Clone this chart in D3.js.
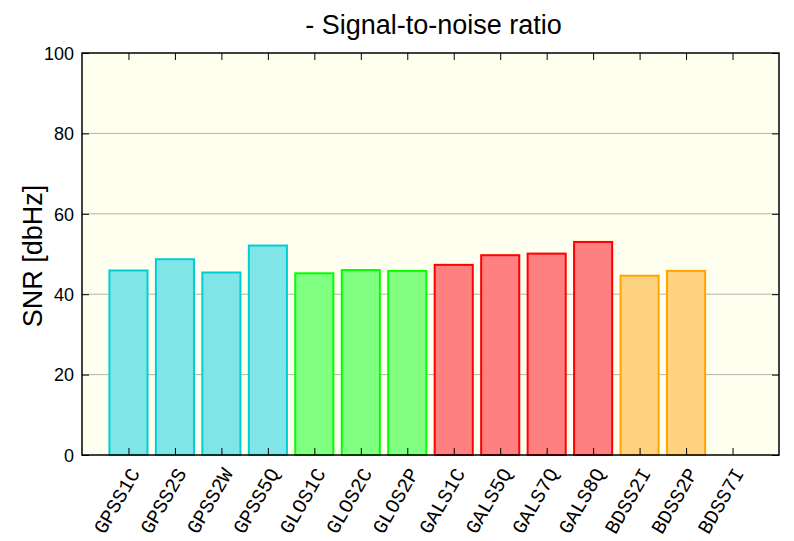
<!DOCTYPE html>
<html>
<head>
<meta charset="utf-8">
<script src="https://cdn.jsdelivr.net/npm/d3@7"></script>
<style>
  body { margin: 0; background: #fff; }
  text { font-family: "Liberation Sans", Arial, sans-serif; }
</style>
</head>
<body>
<div id="chart"></div>
<script>
const signals = ["GPSS1C", "GPSS2S", "GPSS2W", "GPSS5Q", "GLOS1C", "GLOS2C", "GLOS2P",
  "GALS1C", "GALS5Q", "GALS7Q", "GALS8Q", "BDSS2I", "BDSS2P", "BDSS7I"];
const snr = [45.9, 48.7, 45.4, 52.1, 45.2, 46.0, 45.8, 47.3, 49.7, 50.1, 53.0, 44.6, 45.8, null];
const system = ["GPS", "GPS", "GPS", "GPS", "GLO", "GLO", "GLO",
  "GAL", "GAL", "GAL", "GAL", "BDS", "BDS", "BDS"];
const yTicks = [0, 20, 40, 60, 80, 100];

const fills = { GPS: "#80e5e6", GLO: "#80ff80", GAL: "#ff8080", BDS: "#ffd280" };
const strokes = { GPS: "#00ced1", GLO: "#00ff00", GAL: "#ff0000", BDS: "#ffa500" };

const width = 794, height = 541;
const margin = { left: 82, right: 15, top: 53, bottom: 86 };
const plotW = width - margin.left - margin.right;
const plotH = height - margin.top - margin.bottom;

const svg = d3.select("#chart").append("svg")
  .attr("width", width)
  .attr("height", height);

const x = d3.scaleLinear().domain([-1, signals.length]).range([0, plotW]);
const y = d3.scaleLinear().domain([0, 100]).range([plotH, 0]);
const barW = x(0.82) - x(0);

const g = svg.append("g").attr("transform", `translate(${margin.left},${margin.top})`);

// background
g.append("rect")
  .attr("width", plotW)
  .attr("height", plotH)
  .attr("fill", "#fffff0");

// grid
g.selectAll(".grid")
  .data(yTicks.filter(d => d > 0 && d < 100))
  .enter().append("line")
  .attr("x1", 0).attr("x2", plotW)
  .attr("y1", d => y(d)).attr("y2", d => y(d))
  .attr("stroke", "#b4b4a8")
  .attr("stroke-width", 1);

// bars
const idx = d3.range(signals.length).filter(i => snr[i] != null);
g.selectAll(".bar")
  .data(idx)
  .enter().append("rect")
  .attr("x", i => x(i) - barW / 2)
  .attr("y", i => y(snr[i]))
  .attr("width", barW)
  .attr("height", i => y(0) - y(snr[i]))
  .attr("fill", i => fills[system[i]])
  .attr("stroke", i => strokes[system[i]])
  .attr("stroke-width", 2);

// axes with inward ticks
const tickLen = 7;
const axLeft = d3.axisLeft(y).tickValues(yTicks).tickSize(-tickLen).tickPadding(8);
const axRight = d3.axisRight(y).tickValues(yTicks).tickSize(-tickLen).tickFormat("");
const axTop = d3.axisTop(x).tickValues(d3.range(signals.length)).tickSize(-tickLen).tickFormat("");
const axBottom = d3.axisBottom(x).tickValues(d3.range(signals.length)).tickSize(-tickLen).tickFormat("");

g.append("g").call(axTop);
g.append("g").attr("transform", `translate(0,${plotH})`).call(axBottom);
g.append("g").attr("transform", `translate(${plotW},0)`).call(axRight);
const leftAxis = g.append("g").call(axLeft);
leftAxis.selectAll("text")
  .style("font-size", "18px")
  .attr("fill", "#000")
  .attr("dy", "0.35em");

g.selectAll(".domain").remove();
g.selectAll(".tick line").attr("stroke", "#000").attr("stroke-width", 1);

// border
g.append("rect")
  .attr("width", plotW)
  .attr("height", plotH)
  .attr("fill", "none")
  .attr("stroke", "#000")
  .attr("stroke-width", 1.5);

// x labels
g.selectAll(".xlab")
  .data(signals)
  .enter().append("text")
  .attr("transform", (d, i) => `translate(${x(i) + 12},${plotH + 18}) rotate(-60)`)
  .attr("text-anchor", "end")
  .style("font-family", "'Liberation Mono', 'Courier New', monospace")
  .style("font-size", "20px")
  .text(d => d);

// y label
svg.append("text")
  .attr("transform", `translate(42,${margin.top + plotH / 2 + 2}) rotate(-90)`)
  .attr("text-anchor", "middle")
  .style("font-size", "27px")
  .text("SNR [dbHz]");

// title
svg.append("text")
  .attr("x", margin.left + plotW / 2 + 3)
  .attr("y", 34)
  .attr("text-anchor", "middle")
  .style("font-size", "27px")
  .text("- Signal-to-noise ratio");
</script>
</body>
</html>
